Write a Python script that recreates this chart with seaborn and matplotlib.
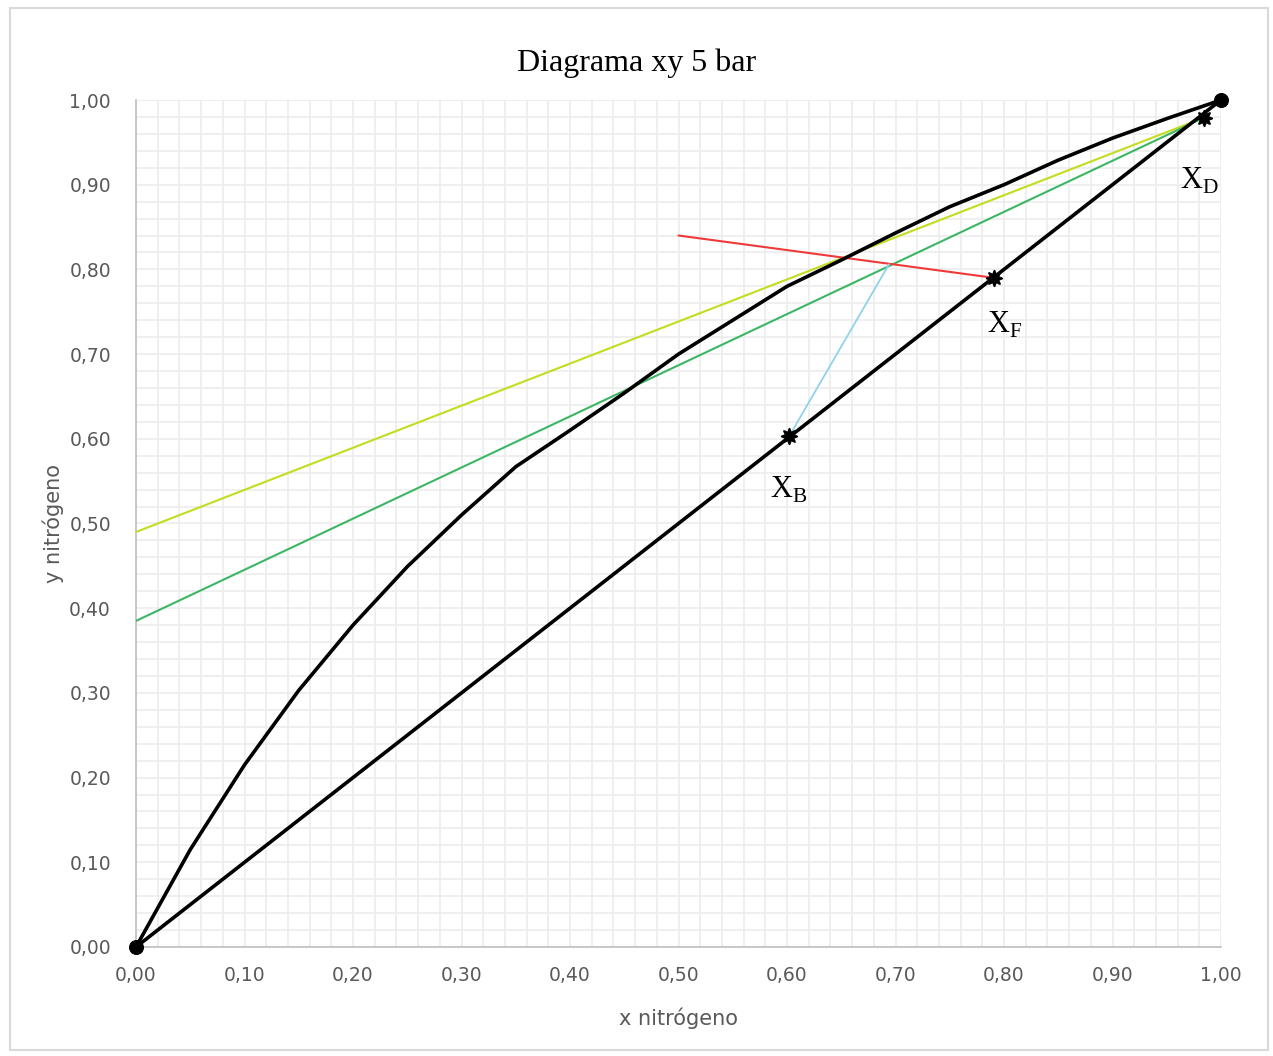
import matplotlib
matplotlib.use("Agg")
import matplotlib.pyplot as plt
import seaborn as sns
import numpy as np
import pandas as pd
from matplotlib.ticker import FuncFormatter, MultipleLocator
from matplotlib.patches import Rectangle

# Equilibrium curve data
x_eq = [0.00, 0.05, 0.10, 0.15, 0.20, 0.25, 0.30, 0.35, 0.40, 0.45, 0.50, 0.55,
        0.60, 0.65, 0.70, 0.75, 0.80, 0.85, 0.90, 0.95, 1.00]
y_eq = [0.00, 0.115, 0.215, 0.303, 0.38, 0.449, 0.51, 0.567, 0.61, 0.654, 0.70, 0.74,
        0.78, 0.811, 0.843, 0.874, 0.90, 0.929, 0.955, 0.978, 1.00]

# Diagonal
x_diag = [0.00, 1.00]
y_diag = [0.00, 1.00]

# Operating lines
x_min_line = [0.00, 0.984]
y_min_line = [0.49, 0.979]
x_op_line = [0.00, 0.984]
y_op_line = [0.385, 0.979]
x_q_line = [0.50, 0.791]
y_q_line = [0.84, 0.79]
x_blue = [0.602, 0.694]
y_blue = [0.603, 0.806]

# Points
pt_names = ["XB", "XF", "XD"]
pt_x = [0.602, 0.791, 0.984]
pt_y = [0.603, 0.790, 0.979]
end_x = [0.00, 1.00]
end_y = [0.00, 1.00]

sns.set_theme(style="white")
plt.rcParams['font.family'] = ['DejaVu Sans']

fig = plt.figure(figsize=(12.73, 10.56), dpi=100)
ax = fig.add_axes([136/1273, 1-947/1056, (1221-136)/1273, (947-100)/1056])

def line(xs, ys, color, lw):
    df = pd.DataFrame({"x": xs, "y": ys})
    sns.lineplot(data=df, x="x", y="y", ax=ax, color=color, linewidth=lw,
                 sort=False, estimator=None, zorder=3)

line(x_min_line, y_min_line, "#c4dc1e", 1.5)
line(x_op_line, y_op_line, "#3cb665", 1.5)
line(x_q_line, y_q_line, "#f03a3a", 1.5)
line(x_blue, y_blue, "#8fd3ea", 1.3)
line(x_eq, y_eq, "black", 2.6)
line(x_diag, y_diag, "black", 2.6)

sns.scatterplot(x=pt_x, y=pt_y, ax=ax, color="black", marker=(8, 1, 0), s=120,
                edgecolor="black", linewidth=1.5, zorder=5)
sns.scatterplot(x=end_x, y=end_y, ax=ax, color="black", marker="o", s=100,
                edgecolor="black", zorder=6)
for coll in ax.collections:
    coll.set_clip_on(False)

ax.set_xlim(0, 1)
ax.set_ylim(0, 1)
ax.xaxis.set_major_locator(MultipleLocator(0.1))
ax.yaxis.set_major_locator(MultipleLocator(0.1))
ax.xaxis.set_minor_locator(MultipleLocator(0.02))
ax.yaxis.set_minor_locator(MultipleLocator(0.02))
fmt = FuncFormatter(lambda v, p: f"{v:.2f}".replace(".", ","))
ax.xaxis.set_major_formatter(fmt)
ax.yaxis.set_major_formatter(fmt)
ax.grid(which="both", color="#ececec", linewidth=1.2, zorder=0)
ax.set_axisbelow(True)
for s in ["top", "right"]:
    ax.spines[s].set_visible(False)
for s in ["left", "bottom"]:
    ax.spines[s].set_color("#bfbfbf")
    ax.spines[s].set_linewidth(1.2)
ax.tick_params(axis="both", which="both", length=0, labelsize=13.5, colors="#595959")
ax.tick_params(axis="x", pad=14)
ax.tick_params(axis="y", pad=18)
ax.set_xlabel("x nitrógeno", fontsize=15, color="#595959", labelpad=16)
ax.set_ylabel("y nitrógeno", fontsize=15, color="#595959", labelpad=4)

fig.text(0.5, 1-63/1056, "Diagrama xy 5 bar", ha="center", va="center",
         fontsize=23, family="Liberation Serif", color="black")

labels = {"XB": ("B", 0.602, 0.54), "XF": ("F", 0.801, 0.735), "XD": ("D", 0.980, 0.905)}
for name in pt_names:
    sub, lx, ly = labels[name]
    ax.text(lx, ly, r"X$_\mathregular{" + sub + "}$", fontsize=22,
            family="Liberation Serif", ha="center", va="center", color="black")

fig.patches.append(Rectangle((10/1273, 1-1050/1056), 1258/1273, 1042/1056,
                             transform=fig.transFigure, fill=False,
                             edgecolor="#d9d9d9", linewidth=1.5))

fig.savefig("out.png", dpi=100)
